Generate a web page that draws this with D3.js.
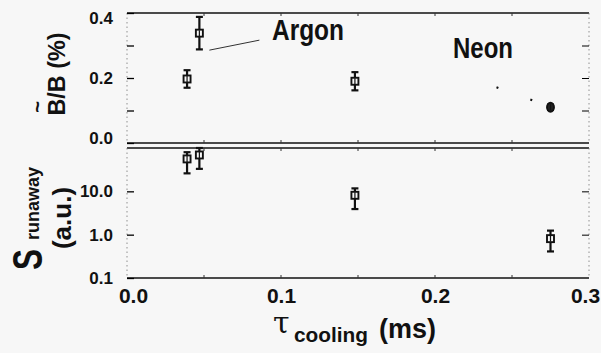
<!DOCTYPE html>
<html>
<head>
<meta charset="utf-8">
<script src="https://cdn.jsdelivr.net/npm/d3@7"></script>
<style>
  body { margin: 0; background: #f7f7f7; }
  svg { display: block; }
  text { font-family: "Liberation Sans", Arial, sans-serif; font-weight: bold; fill: #111; }
</style>
</head>
<body>
<script>
// data
var tau = [0.039, 0.047, 0.148, 0.275];       // cooling time (ms)
var gas = ["Argon", "Argon", "Argon", "Neon"];
var bTilde = [0.197, 0.338, 0.190, 0.110];   // B~/B (%)
var bErr = [0.027, 0.050, 0.028, 0.008];
var sRun = [56, 69, 8.1, 0.81];               // S runaway (a.u.)
var sLo = [26, 33, 3.9, 0.41];
var sHi = [80, 100, 11.7, 1.24];
var xTicks = [0.0, 0.1, 0.2, 0.3];
var topTicks = [0.0, 0.1, 0.2, 0.3, 0.4];
var botTicks = [0.1, 1, 10];

var width = 601;
var height = 353;
var svg = d3.select("body").append("svg")
            .attr("width", width)
            .attr("height", height);

var x = d3.scaleLinear().domain([0, 0.3]).range([127, 589]);
var yTop = d3.scaleLinear().domain([0, 0.4]).range([143, 13]);
var yBot = d3.scaleLog().domain([0.1, 100]).range([278, 148]);

var rows = tau.map(function(t, i) {
    return {t: t, gas: gas[i], b: bTilde[i], be: bErr[i], s: sRun[i], lo: sLo[i], hi: sHi[i]};
});

// panel frames
var frame = function(y0, y1) {
    svg.append("line").attr("x1", 127).attr("x2", 589).attr("y1", y0).attr("y2", y0)
       .attr("stroke", "#111").attr("stroke-width", 1.4);
    svg.append("line").attr("x1", 127).attr("x2", 589).attr("y1", y1).attr("y2", y1)
       .attr("stroke", "#111").attr("stroke-width", 1.4);
    [127, 589].forEach(function(xx) {
        svg.append("line").attr("x1", xx).attr("x2", xx).attr("y1", y0).attr("y2", y1)
           .attr("stroke", "#777").attr("stroke-width", 0.8).attr("stroke-dasharray", "1.5,3");
    });
    // small ticks every 0.05 along the horizontal borders
    d3.range(0.05, 0.3, 0.05).forEach(function(v) {
        svg.append("line").attr("x1", x(v)).attr("x2", x(v)).attr("y1", y0).attr("y2", y0 + 3)
           .attr("stroke", "#333").attr("stroke-width", 1);
        svg.append("line").attr("x1", x(v)).attr("x2", x(v)).attr("y1", y1).attr("y2", y1 - 3)
           .attr("stroke", "#333").attr("stroke-width", 1);
    });
};
frame(yTop.range()[1], yTop.range()[0]);
frame(yBot.range()[1], yBot.range()[0]);

// left axes
var topAxis = svg.append("g").attr("transform", "translate(127,0)")
    .call(d3.axisLeft(yTop).tickValues(topTicks).tickSize(-7).tickPadding(14)
            .tickFormat(function(d) { return Math.round(d * 10) % 2 === 0 ? d3.format(".1f")(d) : ""; }));
topAxis.select(".domain").remove();
topAxis.selectAll("text").style("font-size", "17px")
       .attr("dy", function(d) { return d === 0.4 ? "0.62em" : d === 0 ? "0.05em" : "0.32em"; });
topAxis.selectAll("line").attr("stroke-width", 1.3);

var botAxis = svg.append("g").attr("transform", "translate(127,0)")
    .call(d3.axisLeft(yBot).tickValues(botTicks).tickSize(-7).tickPadding(14)
            .tickFormat(d3.format(".1f")));
botAxis.select(".domain").remove();
botAxis.selectAll("text").style("font-size", "17px");
botAxis.selectAll("line").attr("stroke-width", 1.3);

// right side ticks
svg.append("g").attr("transform", "translate(589,0)")
   .call(d3.axisRight(yTop).tickValues([0.1, 0.2, 0.3]).tickSize(-7).tickFormat(""))
   .select(".domain").remove();
svg.append("g").attr("transform", "translate(589,0)")
   .call(d3.axisRight(yBot).tickValues([1, 10]).tickSize(-7).tickFormat(""))
   .select(".domain").remove();

// bottom axis labels
var xAxis = svg.append("g").attr("transform", "translate(0,278)")
    .call(d3.axisBottom(x).tickValues(xTicks).tickSize(0).tickPadding(10).tickFormat(d3.format(".1f")));
xAxis.select(".domain").remove();
xAxis.selectAll("text").style("font-size", "21px")
     .attr("dx", function(d) { return d === 0 ? 6 : d === 0.3 ? -4 : 0; });

// error bars + markers
var drawPoints = function(g, data, yScale, yv, ylo, yhi) {
    var pts = g.selectAll("g.pt").data(data).enter().append("g").attr("class", "pt");
    var solid = function(d) { return d.gas === "Neon" && yScale === yTop; };
    pts.append("line")
       .attr("x1", function(d) { return x(d.t); }).attr("x2", function(d) { return x(d.t); })
       .attr("y1", function(d) { return yScale(ylo(d)); }).attr("y2", function(d) { return yScale(yhi(d)); })
       .attr("stroke", "#111").attr("stroke-width", 2.2);
    [ylo, yhi].forEach(function(f) {
        pts.append("line")
           .attr("x1", function(d) { return x(d.t) - 3.5; }).attr("x2", function(d) { return x(d.t) + 3.5; })
           .attr("y1", function(d) { return yScale(f(d)); }).attr("y2", function(d) { return yScale(f(d)); })
           .attr("stroke", "#111").attr("stroke-width", 2.2);
    });
    pts.append("rect")
       .attr("x", function(d) { return x(d.t) - 3.5; })
       .attr("y", function(d) { return yScale(yv(d)) - (solid(d) ? 4.5 : 3.5); })
       .attr("width", 7).attr("height", function(d) { return solid(d) ? 9 : 7; })
       .attr("fill", function(d) { return solid(d) ? "#222" : "#f7f7f7"; })
       .attr("rx", function(d) { return solid(d) ? 3.5 : 0; })
       .attr("ry", function(d) { return solid(d) ? 4.5 : 0; })
       .attr("stroke", "#111").attr("stroke-width", 1.9);
    pts.append("line")
       .attr("x1", function(d) { return x(d.t); }).attr("x2", function(d) { return x(d.t); })
       .attr("y1", function(d) { return yScale(yv(d)) - 3; }).attr("y2", function(d) { return yScale(yv(d)) + 3; })
       .attr("stroke", "#111").attr("stroke-width", 1.2);
};
drawPoints(svg.append("g"), rows, yTop,
    function(d) { return d.b; }, function(d) { return d.b - d.be; }, function(d) { return d.b + d.be; });
drawPoints(svg.append("g"), rows, yBot,
    function(d) { return d.s; }, function(d) { return d.lo; }, function(d) { return d.hi; });

// annotations
var ar = rows[1], ne = rows[3];
svg.append("line")
   .attr("x1", x(ar.t) + 10).attr("y1", yTop(ar.b) + 17)
   .attr("x2", x(ar.t) + 60).attr("y2", yTop(ar.b) + 7)
   .attr("stroke", "#333").attr("stroke-width", 1);
svg.append("text").attr("x", 272).attr("y", 40).style("font-size", "30px")
   .attr("textLength", 72).attr("lengthAdjust", "spacingAndGlyphs").text("Argon");
svg.append("line")
   .attr("x1", x(ne.t) - 54).attr("y1", yTop(ne.b) - 20)
   .attr("x2", x(ne.t) - 10).attr("y2", yTop(ne.b) - 4)
   .attr("stroke", "#111").attr("stroke-width", 2.2).attr("stroke-dasharray", "2,34");
svg.append("text").attr("x", 453).attr("y", 58).style("font-size", "30px")
   .attr("textLength", 60).attr("lengthAdjust", "spacingAndGlyphs").text("Neon");

// y titles
svg.append("text").attr("transform", "translate(65,74) rotate(-90)")
   .attr("text-anchor", "middle").style("font-size", "24px")
   .attr("textLength", 83).attr("lengthAdjust", "spacingAndGlyphs").text("B/B (%)");
svg.append("text").attr("transform", "translate(44,107) rotate(-90)")
   .attr("text-anchor", "middle").style("font-size", "20px").text("~");

svg.append("text").attr("transform", "translate(42,270) rotate(-90)")
   .style("font-size", "42px").attr("textLength", 21).attr("lengthAdjust", "spacingAndGlyphs").text("S");
svg.append("text").attr("transform", "translate(39,240) rotate(-90)")
   .style("font-size", "18px").attr("textLength", 73).attr("lengthAdjust", "spacingAndGlyphs").text("runaway");
svg.append("text").attr("transform", "translate(71,218) rotate(-90)")
   .attr("text-anchor", "middle").style("font-size", "26px").text("(a.u.)");

// x title
svg.append("text").attr("x", 273).attr("y", 333)
   .style("font-family", "'DejaVu Serif', serif").style("font-weight", "normal")
   .style("font-size", "30px").text("τ");
svg.append("text").attr("x", 294).attr("y", 342).style("font-size", "21px")
   .attr("textLength", 74).attr("lengthAdjust", "spacingAndGlyphs").text("cooling");
svg.append("text").attr("x", 379).attr("y", 338).style("font-size", "27px").text("(ms)");
</script>
</body>
</html>
